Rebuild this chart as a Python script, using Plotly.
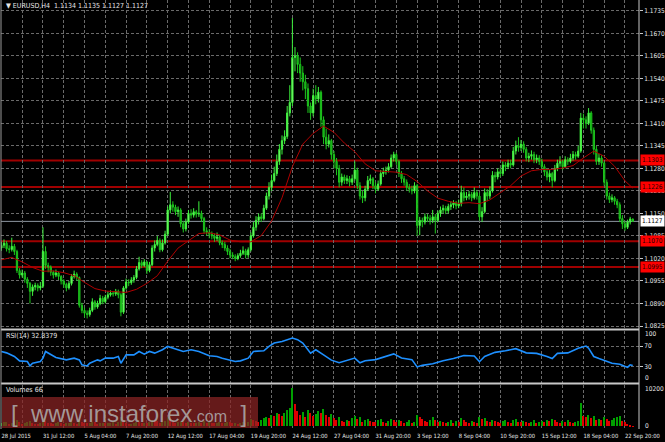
import plotly.graph_objects as go

# ---------------- data ----------------
date_labels = ["28 Jul 2015", "31 Jul 12:00", "5 Aug 04:00", "7 Aug 20:00", "12 Aug 12:00",
               "17 Aug 04:00", "19 Aug 20:00", "24 Aug 12:00", "27 Aug 04:00", "31 Aug 20:00",
               "3 Sep 12:00", "8 Sep 04:00", "10 Sep 20:00", "15 Sep 12:00", "18 Sep 04:00",
               "22 Sep 20:00"]
label_bars = [0, 16, 32, 48, 64, 80, 96, 112, 128, 144, 160, 176, 192, 208, 224, 240]

price_ticks = ["1.0825", "1.0890", "1.0955", "1.1020", "1.1085", "1.1150", "1.1215", "1.1280",
               "1.1345", "1.1410", "1.1475", "1.1540", "1.1605", "1.1670", "1.1735"]

first_open = 1.1050
closes = [
    1.1058, 1.1064, 1.1048, 1.1046, 1.1055, 1.1040, 1.0985, 1.0972,
    1.0978, 1.0960, 1.0948, 1.0925, 1.0938, 1.0942, 1.0935, 1.0940,
    1.1040, 1.1000, 1.0995, 1.0980, 1.0972, 1.0978, 1.0968, 1.0955,
    1.0945, 1.0935, 1.0948, 1.0968, 1.0975, 1.0965, 1.0885, 1.0870,
    1.0862, 1.0858, 1.0870, 1.0895, 1.0880, 1.0890, 1.0905, 1.0895,
    1.0908, 1.0915, 1.0920, 1.0918, 1.0925, 1.0915, 1.0865, 1.0935,
    1.0952, 1.0950, 1.0958, 1.0965, 1.0990, 1.1008, 1.1000, 1.1010,
    1.0985, 1.1002, 1.1050, 1.1060, 1.1072, 1.1045, 1.1065, 1.1090,
    1.1160, 1.1175, 1.1168, 1.1155, 1.1160, 1.1120, 1.1105, 1.1125,
    1.1150, 1.1145, 1.1155, 1.1148, 1.1150, 1.1135, 1.1100, 1.1095,
    1.1090, 1.1085, 1.1078, 1.1082, 1.1065, 1.1060, 1.1050, 1.1040,
    1.1030, 1.1025, 1.1020, 1.1028, 1.1035, 1.1042, 1.1030, 1.1045,
    1.1085, 1.1110, 1.1130, 1.1140, 1.1135, 1.1165, 1.1200, 1.1225,
    1.1245, 1.1265, 1.1300, 1.1335, 1.1360, 1.1372, 1.1440, 1.1470,
    1.1600, 1.1605, 1.1580, 1.1555, 1.1530, 1.1510, 1.1460, 1.1440,
    1.1490, 1.1480, 1.1500, 1.1420, 1.1370, 1.1350, 1.1360, 1.1320,
    1.1300, 1.1280, 1.1240, 1.1255, 1.1245, 1.1250, 1.1240, 1.1250,
    1.1275, 1.1230, 1.1200, 1.1195, 1.1220, 1.1245, 1.1250, 1.1230,
    1.1220, 1.1235, 1.1265, 1.1270, 1.1275, 1.1285, 1.1310, 1.1320,
    1.1300, 1.1265, 1.1250, 1.1240, 1.1225, 1.1220, 1.1215, 1.1230,
    1.1115, 1.1130, 1.1125, 1.1140, 1.1135, 1.1130, 1.1140, 1.1130,
    1.1150, 1.1160, 1.1165, 1.1158, 1.1170, 1.1175, 1.1180, 1.1172,
    1.1178, 1.1210, 1.1195, 1.1200, 1.1205, 1.1195, 1.1210, 1.1200,
    1.1140, 1.1155, 1.1210, 1.1200, 1.1215, 1.1260, 1.1255, 1.1270,
    1.1265, 1.1290, 1.1285, 1.1295, 1.1290, 1.1330, 1.1345, 1.1340,
    1.1350, 1.1335, 1.1310, 1.1315, 1.1320, 1.1305, 1.1310, 1.1300,
    1.1285, 1.1270, 1.1255, 1.1265, 1.1245, 1.1280, 1.1295, 1.1300,
    1.1285, 1.1305, 1.1300, 1.1310, 1.1320, 1.1315, 1.1330, 1.1425,
    1.1420, 1.1410, 1.1440, 1.1390, 1.1335, 1.1300, 1.1310, 1.1295,
    1.1240, 1.1200, 1.1190, 1.1195, 1.1185, 1.1175, 1.1135, 1.1120,
    1.1110, 1.1125, 1.1134, 1.1127]
highs = [
    1.1068, 1.1075, 1.1070, 1.1058, 1.1080, 1.1062, 1.1045, 1.0992,
    1.0988, 1.0984, 1.0966, 1.0952, 1.0945, 1.0950, 1.0948, 1.0952,
    1.1110, 1.1055, 1.1008, 1.1000, 1.0985, 1.0988, 1.0982, 1.0972,
    1.0960, 1.0950, 1.0955, 1.0975, 1.0985, 1.0980, 1.0968, 1.0892,
    1.0878, 1.0870, 1.0878, 1.0905, 1.0900, 1.0898, 1.0915, 1.0912,
    1.0915, 1.0925, 1.0928, 1.0926, 1.0932, 1.0930, 1.0920, 1.0940,
    1.0962, 1.0960, 1.0966, 1.0972, 1.0998, 1.1025, 1.1015, 1.1018,
    1.1012, 1.1010, 1.1058, 1.1072, 1.1085, 1.1078, 1.1075, 1.1100,
    1.1170, 1.1212, 1.1185, 1.1175, 1.1170, 1.1165, 1.1128, 1.1135,
    1.1160, 1.1162, 1.1165, 1.1160, 1.1185, 1.1158, 1.1140, 1.1110,
    1.1105, 1.1098, 1.1092, 1.1095, 1.1088, 1.1072, 1.1068, 1.1058,
    1.1048, 1.1038, 1.1032, 1.1035, 1.1045, 1.1055, 1.1048, 1.1052,
    1.1095, 1.1125, 1.1142, 1.1150, 1.1150, 1.1175, 1.1210, 1.1240,
    1.1262, 1.1285, 1.1320, 1.1350, 1.1375, 1.1390, 1.1460, 1.1520,
    1.1714, 1.1630, 1.1615, 1.1600, 1.1575, 1.1550, 1.1525, 1.1470,
    1.1510, 1.1520, 1.1515, 1.1505, 1.1430, 1.1395, 1.1378, 1.1365,
    1.1330, 1.1310, 1.1290, 1.1265, 1.1262, 1.1260, 1.1258, 1.1262,
    1.1300, 1.1282, 1.1240, 1.1215, 1.1230, 1.1258, 1.1262, 1.1255,
    1.1240, 1.1245, 1.1275, 1.1282, 1.1285, 1.1295, 1.1320, 1.1328,
    1.1325, 1.1305, 1.1272, 1.1258, 1.1248, 1.1235, 1.1230, 1.1240,
    1.1235, 1.1140, 1.1138, 1.1150, 1.1148, 1.1145, 1.1160, 1.1148,
    1.1158, 1.1170, 1.1175, 1.1172, 1.1178, 1.1185, 1.1188, 1.1186,
    1.1190, 1.1230, 1.1225, 1.1212, 1.1215, 1.1212, 1.1225, 1.1218,
    1.1210, 1.1168, 1.1222, 1.1220, 1.1228, 1.1272, 1.1270, 1.1280,
    1.1282, 1.1300, 1.1298, 1.1305, 1.1305, 1.1342, 1.1360, 1.1370,
    1.1362, 1.1358, 1.1342, 1.1325, 1.1332, 1.1328, 1.1320, 1.1318,
    1.1308, 1.1292, 1.1280, 1.1275, 1.1270, 1.1290, 1.1305, 1.1315,
    1.1305, 1.1315, 1.1312, 1.1322, 1.1330, 1.1328, 1.1345, 1.1440,
    1.1438, 1.1430, 1.1454, 1.1445, 1.1398, 1.1345, 1.1322, 1.1318,
    1.1300, 1.1248, 1.1210, 1.1205, 1.1200, 1.1192, 1.1182, 1.1145,
    1.1128, 1.1132, 1.1140, 1.1135]
lows = [
    1.1042, 1.1050, 1.1040, 1.1035, 1.1040, 1.1030, 1.0978, 1.0962,
    1.0965, 1.0950, 1.0935, 1.0890, 1.0912, 1.0928, 1.0925, 1.0928,
    1.0935, 1.0990, 1.0980, 1.0970, 1.0962, 1.0966, 1.0958, 1.0945,
    1.0935, 1.0925, 1.0930, 1.0942, 1.0962, 1.0955, 1.0878, 1.0862,
    1.0850, 1.0847, 1.0852, 1.0865, 1.0872, 1.0875, 1.0885, 1.0888,
    1.0890, 1.0902, 1.0910, 1.0910, 1.0912, 1.0905, 1.0853, 1.0860,
    1.0930, 1.0940, 1.0944, 1.0950, 1.0960, 1.0985, 1.0992, 1.0995,
    1.0975, 1.0980, 1.0998, 1.1040, 1.1055, 1.1038, 1.1040, 1.1060,
    1.1085, 1.1150, 1.1155, 1.1145, 1.1140, 1.1110, 1.1095, 1.1098,
    1.1120, 1.1135, 1.1138, 1.1138, 1.1140, 1.1125, 1.1092, 1.1085,
    1.1078, 1.1075, 1.1068, 1.1070, 1.1058, 1.1050, 1.1042, 1.1030,
    1.1020, 1.1018, 1.1012, 1.1015, 1.1022, 1.1030, 1.1020, 1.1022,
    1.1040, 1.1080, 1.1100, 1.1118, 1.1125, 1.1130, 1.1160, 1.1190,
    1.1215, 1.1240, 1.1258, 1.1290, 1.1320, 1.1350, 1.1365, 1.1430,
    1.1460, 1.1560, 1.1555, 1.1530, 1.1505, 1.1480, 1.1440, 1.1420,
    1.1430, 1.1465, 1.1470, 1.1400, 1.1350, 1.1335, 1.1340, 1.1305,
    1.1280, 1.1260, 1.1225, 1.1230, 1.1235, 1.1235, 1.1228, 1.1232,
    1.1245, 1.1220, 1.1190, 1.1180, 1.1185, 1.1215, 1.1235, 1.1220,
    1.1208, 1.1215, 1.1230, 1.1255, 1.1262, 1.1268, 1.1280, 1.1300,
    1.1290, 1.1255, 1.1238, 1.1230, 1.1215, 1.1210, 1.1205, 1.1208,
    1.1085, 1.1087, 1.1110, 1.1118, 1.1125, 1.1118, 1.1122, 1.1092,
    1.1125, 1.1140, 1.1150, 1.1148, 1.1150, 1.1160, 1.1165, 1.1162,
    1.1165, 1.1170, 1.1185, 1.1188, 1.1190, 1.1185, 1.1190, 1.1190,
    1.1130, 1.1125, 1.1150, 1.1185, 1.1192, 1.1210, 1.1240, 1.1248,
    1.1255, 1.1258, 1.1272, 1.1278, 1.1280, 1.1285, 1.1320, 1.1328,
    1.1330, 1.1325, 1.1300, 1.1298, 1.1305, 1.1295, 1.1295, 1.1290,
    1.1275, 1.1258, 1.1245, 1.1240, 1.1225, 1.1240, 1.1272, 1.1285,
    1.1275, 1.1280, 1.1290, 1.1295, 1.1302, 1.1305, 1.1310, 1.1325,
    1.1395, 1.1395, 1.1405, 1.1380, 1.1320, 1.1290, 1.1290, 1.1285,
    1.1230, 1.1190, 1.1180, 1.1182, 1.1175, 1.1165, 1.1125, 1.1105,
    1.1100, 1.1105, 1.1118, 1.1127]

# moving average line, read every 4 bars
ma_bars = [0, 4, 8, 12, 16, 20, 24, 28, 32, 36, 40, 44, 48, 52, 56, 60, 64, 68, 72, 76, 80,
           84, 88, 92, 96, 100, 104, 108, 112, 116, 120, 124, 128, 132, 136, 140, 144, 148,
           152, 156, 160, 164, 168, 172, 176, 180, 184, 188, 192, 196, 200, 204, 208, 212,
           216, 220, 224, 228, 232, 236, 240, 243]
ma_vals = [1.1016, 1.1023, 1.1010, 1.0994, 1.0983, 1.0984, 1.0979, 1.0970, 1.0951, 1.0933,
           1.0926, 1.0924, 1.0922, 1.0931, 1.0948, 1.0970, 1.1012, 1.1050, 1.1070, 1.1092,
           1.1094, 1.1088, 1.1073, 1.1068, 1.1068, 1.1086, 1.1128, 1.1195, 1.1285, 1.1350,
           1.1381, 1.1402, 1.1384, 1.1353, 1.1328, 1.1293, 1.1273, 1.1270, 1.1269, 1.1262,
           1.1242, 1.1215, 1.1194, 1.1185, 1.1179, 1.1181, 1.1178, 1.1189, 1.1209, 1.1230,
           1.1258, 1.1273, 1.1277, 1.1277, 1.1281, 1.1288, 1.1310, 1.1330, 1.1315, 1.1286,
           1.1244, 1.1223]

# RSI(14) line
rsi_bars = [0, 2, 5, 7, 10, 11, 12, 15, 16, 17, 21, 25, 28, 30, 31, 33, 34, 37, 38, 40, 43,
            45, 46, 48, 51, 53, 55, 57, 59, 62, 64, 67, 70, 73, 76, 80, 83, 85, 88, 90, 92,
            95, 97, 101, 103, 105, 108, 112, 114, 116, 119, 121, 124, 127, 130, 133, 136,
            138, 140, 144, 148, 151, 154, 158, 160, 162, 166, 170, 174, 178, 182, 184, 186,
            190, 194, 198, 202, 206, 210, 212, 214, 218, 222, 224, 225, 226, 228, 230, 232,
            235, 238, 240, 241, 242, 243]
rsi_vals = [59.7, 57.0, 50.0, 41.6, 40.3, 31.9, 37.1, 40.3, 46.8, 59.7, 48.0, 43.5, 46.8,
            43.5, 33.9, 31.9, 37.1, 43.5, 41.6, 46.8, 46.8, 50.0, 37.1, 53.2, 53.2, 59.7,
            54.5, 59.7, 56.5, 62.9, 69.4, 64.2, 59.7, 62.9, 59.7, 51.3, 50.0, 46.8, 43.5,
            40.3, 41.6, 46.8, 59.7, 61.0, 69.4, 75.8, 79.0, 85.5, 82.3, 75.8, 56.5, 62.9,
            53.2, 43.0, 38.0, 42.0, 47.0, 38.0, 42.0, 44.0, 50.0, 55.0, 47.0, 44.0, 30.0,
            33.0, 36.0, 42.0, 46.0, 52.0, 51.0, 40.0, 50.0, 58.0, 61.0, 65.0, 57.0, 56.0,
            50.0, 46.0, 56.0, 57.0, 66.0, 68.0, 70.0, 66.0, 50.0, 46.0, 43.0, 37.0, 35.0,
            30.0, 29.0, 34.0, 32.8]

volumes = [
    900, 1100, 1300, 700, 800, 1500, 1600, 1200, 600, 900, 1100, 1400, 1000, 700, 600, 900,
    2200, 1500, 1000, 800, 700, 1000, 1200, 900, 600, 800, 1000, 1300, 900, 700, 1600, 1200,
    1000, 800, 900, 1300, 1100, 700, 900, 1000, 800, 900, 1000, 1100, 700, 1200, 2400, 1800,
    1000, 600, 700, 900, 1300, 1200, 800, 1000, 900, 1100, 1800, 1600, 1400, 1000, 1200, 1500,
    2600, 2200, 1400, 1000, 1100, 1500, 1200, 1000, 1300, 900, 800, 1000, 1100, 900, 1400, 1000,
    1100, 900, 800, 1000, 1200, 900, 1000, 1300, 1100, 800, 900, 700, 1000, 1200, 900, 1100,
    2000, 1800, 1500, 1300, 1700, 2200, 2600, 2300, 3000, 2700, 3500, 3200, 2800, 3600, 4500, 5000,
    10200, 6000, 4200, 3000, 3800, 2500, 4400, 3600, 2800, 3300, 4000, 3500, 4600, 3000, 2500, 3200,
    2200, 1800, 2600, 1500, 1200, 1700, 1400, 2300, 2700, 1900, 2400, 1300, 1600, 2000, 1500, 1200,
    1100, 1600, 2100, 1300, 900, 1500, 2000, 1700, 1200, 1800, 1400, 1000, 1300, 1600, 900, 1300,
    3000, 2500, 2000, 1400, 1200, 1700, 2600, 1800, 1100, 1500, 1300, 900, 1200, 1600, 1000, 1400,
    1200, 2200, 1800, 1300, 1000, 1500, 1200, 900, 2400, 1900, 2300, 1400, 1100, 1800, 1500, 1200,
    1000, 1400, 1700, 1100, 900, 1600, 2000, 1300, 1100, 1500, 1200, 900, 1300, 1600, 1000, 1200,
    1500, 1100, 1800, 1400, 2100, 1700, 1200, 1000, 1400, 1100, 1600, 1300, 1000, 1200, 1500, 6300,
    2900, 2400, 3000, 2200, 2700, 1800, 2000, 1600, 2400, 2100, 1500, 1800, 2300, 2600, 2700, 1400,
    1200, 700, 300, 66]

level_prices = [1.1303, 1.1226, 1.1070, 1.0995]
level_texts = ["1.1303", "1.1226", "1.1070", "1.0995"]
bid_price = 1.1127
bid_text = "1.1127"

title_text = "EURUSD,H4  1.1134 1.1135 1.1127 1.1127"
rsi_text = "RSI(14) 32.8379"
vol_text = "Volumes 66"

# ---------------- styling helpers ----------------
FONT = "Liberation Sans Narrow, DejaVu Sans Condensed, Liberation Sans, Arial, sans-serif"
TXT = "#E6E6E6"
GRID = "#6A6A6A"
H = 442
PLOT_TOP, PLOT_BOT = 0, 429
PLOT_H = PLOT_BOT - PLOT_TOP


def py(px):
    return (PLOT_BOT - px) / PLOT_H


bars = list(range(len(closes)))
opens = [first_open] + closes[:-1]
vol_colors = ["#00A000"] + ["#00A000" if volumes[i] > volumes[i - 1] else "#E00000"
                            for i in range(1, len(volumes))]

fig = go.Figure()
fig.add_trace(go.Candlestick(
    x=bars, open=opens, high=highs, low=lows, close=closes,
    increasing=dict(line=dict(color="#3CF03C", width=1), fillcolor="#A6FF8E"),
    decreasing=dict(line=dict(color="#1EC81E", width=1), fillcolor="#0E960E"),
    whiskerwidth=0, xaxis="x", yaxis="y", hoverinfo="skip", showlegend=False))
fig.add_trace(go.Scatter(x=ma_bars, y=ma_vals, mode="lines", line=dict(color="#B00000", width=1),
                         xaxis="x", yaxis="y", hoverinfo="skip", showlegend=False))
fig.add_trace(go.Scatter(x=rsi_bars, y=rsi_vals, mode="lines", line=dict(color="#1E90FF", width=1.6),
                         xaxis="x", yaxis="y2", hoverinfo="skip", showlegend=False))
fig.add_trace(go.Bar(x=bars, y=volumes, width=0.5, marker=dict(color=vol_colors, line=dict(width=0)),
                     xaxis="x", yaxis="y3", hoverinfo="skip", showlegend=False))

shapes = []
for lv in level_prices:
    shapes.append(dict(type="line", xref="paper", yref="y", x0=0, x1=1, y0=lv, y1=lv,
                       line=dict(color="#A00000", width=2), layer="between"))
shapes.append(dict(type="line", xref="paper", yref="y", x0=0, x1=1, y0=bid_price, y1=bid_price,
                   line=dict(color="#8C96A0", width=1), layer="between"))
# pane separators & borders
for yy in [329.5, 383.5]:
    shapes.append(dict(type="line", xref="paper", yref="paper", x0=0, x1=1, y0=py(yy), y1=py(yy),
                       line=dict(color="#C8C8C8", width=2)))
shapes.append(dict(type="line", xref="paper", yref="paper", x0=1, x1=1, y0=0, y1=1,
                   line=dict(color="#C8C8C8", width=1)))
shapes.append(dict(type="line", xref="paper", yref="paper", x0=0, x1=0, y0=0, y1=1,
                   line=dict(color="#9A9A9A", width=1)))
# watermark box
shapes.append(dict(type="rect", xref="paper", yref="paper", x0=(2 - 1) / 638, x1=(258 - 1) / 638,
                   y0=py(428), y1=py(397), fillcolor="rgba(140,36,36,0.72)", line=dict(width=0),
                   layer="above"))

ann = []
ann.append(dict(text="▼ " + title_text, xref="paper", yref="paper", x=3 / 638, y=py(6),
                xanchor="left", yanchor="middle", showarrow=False, font=dict(family=FONT, size=7, color=TXT)))
ann.append(dict(text=rsi_text, xref="paper", yref="paper", x=3 / 638, y=py(336),
                xanchor="left", yanchor="middle", showarrow=False, font=dict(family=FONT, size=7, color=TXT)))
ann.append(dict(text=vol_text, xref="paper", yref="paper", x=3 / 638, y=py(390),
                xanchor="left", yanchor="middle", showarrow=False, font=dict(family=FONT, size=7, color=TXT)))
for t, yy in [("100", 334), ("0", 378), ("10200", 388.7), ("0", 426)]:
    ann.append(dict(text=t, xref="paper", yref="paper", x=1, xshift=4, y=py(yy),
                    xanchor="left", yanchor="middle", showarrow=False,
                    font=dict(family=FONT, size=6.5, color=TXT)))
for lv, t in zip(level_prices, level_texts):
    ann.append(dict(text=t, xref="paper", yref="y", x=1, xshift=1, y=lv, xanchor="left",
                    yanchor="middle", showarrow=False, bgcolor="#FF0000", borderpad=1,
                    font=dict(family=FONT, size=6.5, color="#1A0000")))
ann.append(dict(text=bid_text, xref="paper", yref="y", x=1, xshift=1, y=bid_price, xanchor="left",
                yanchor="middle", showarrow=False, bgcolor="#FFFFFF", borderpad=1,
                font=dict(family=FONT, size=6.5, color="#000000")))
ann.append(dict(text="[&nbsp;&nbsp;www.instaforex<span style='font-size:16px'>.com</span>&nbsp;&nbsp;]",
                xref="paper", yref="paper", x=(129 - 1) / 638, y=py(413), xanchor="center",
                yanchor="middle", showarrow=False,
                font=dict(family="Liberation Sans, Arial, sans-serif", size=24, color="rgba(175,175,175,0.85)")))

fig.update_layout(
    width=665, height=H, margin=dict(l=1, r=26, t=PLOT_TOP, b=H - PLOT_BOT, autoexpand=False),
    paper_bgcolor="#000000", plot_bgcolor="#000000", showlegend=False,
    hovermode=False, bargap=0,
    xaxis=dict(domain=[0, 1], range=[-0.15, 245.4], anchor="y3", automargin=False,
               tickmode="array", tickvals=label_bars, ticktext=date_labels, tickangle=0,
               ticklabelposition="outside right", ticks="", showline=False, zeroline=False,
               ticklabelstandoff=2,
               showgrid=True, gridcolor=GRID, griddash="3px,2px", gridwidth=1,
               minor=dict(tickmode="array", tickvals=[b + 8 for b in label_bars],
                          showgrid=True, gridcolor=GRID, griddash="3px,2px", gridwidth=1, ticks=""),
               tickfont=dict(family=FONT, size=5.8, color=TXT),
               rangeslider=dict(visible=False), fixedrange=True),
    yaxis=dict(domain=[py(329), 1], range=[1.08164, 1.17659], anchor="x", side="right",
               automargin=False,
               tickmode="array", tickvals=[float(t) for t in price_ticks], ticktext=price_ticks,
               ticks="outside", ticklen=3, tickcolor="#C8C8C8",
               showgrid=True, gridcolor=GRID, griddash="3px,2px", gridwidth=1,
               zeroline=False, showline=False, tickfont=dict(family=FONT, size=6.5, color=TXT)),
    yaxis2=dict(domain=[py(382.5), py(330.5)], range=[0, 100], anchor="x", side="right",
                automargin=False,
                tickmode="array", tickvals=[30, 70], ticktext=["30", "70"],
                ticks="outside", ticklen=3, tickcolor="#C8C8C8",
                showgrid=True, gridcolor=GRID, griddash="3px,2px", gridwidth=1,
                zeroline=False, showline=False, tickfont=dict(family=FONT, size=6.5, color=TXT)),
    yaxis3=dict(domain=[0, py(384.5)], range=[-800, 11000], anchor="x", side="right",
                automargin=False,
                showticklabels=False, showgrid=False, zeroline=False, showline=False),
    shapes=shapes, annotations=ann,
)

fig.write_html("out.html", config={"displayModeBar": False},
               post_script="document.body.style.margin='0';document.body.style.overflow='hidden';")
